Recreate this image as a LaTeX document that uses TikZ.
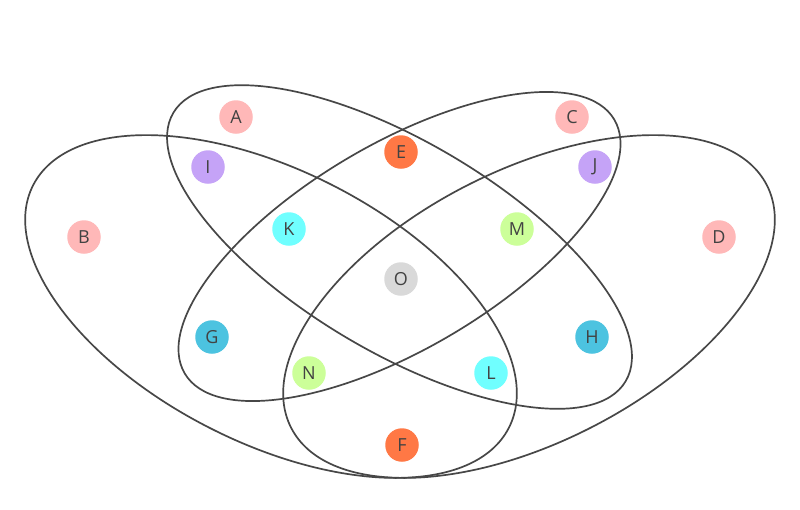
\documentclass[tikz,border=0pt]{standalone}
\usepackage{fontspec}
\setmainfont{Open Sans}
\definecolor{linec}{HTML}{474747}
\definecolor{txtc}{HTML}{424242}
\definecolor{pinkc}{HTML}{FFB8B8}
\definecolor{purplec}{HTML}{C5A3F7}
\definecolor{orangec}{HTML}{FF7845}
\definecolor{aquac}{HTML}{70FFFF}
\definecolor{bluec}{HTML}{4CC3E0}
\definecolor{greenc}{HTML}{CCFF99}
\definecolor{grayc}{HTML}{D9D9D9}
\tikzset{
  vline/.style={draw=linec, line width=1.7pt},
  dot/.style={circle, minimum size=33.5pt, inner sep=0pt, text=txtc, font=\fontsize{18}{18}\selectfont},
}
\begin{document}
\begin{tikzpicture}[x=1pt,y=1pt]
\useasboundingbox[fill=white] (0,0) rectangle (800,-509);
% ellipses
\draw[vline, rotate around={-30.7:(399.5,-247)}] (399.5,-247) ellipse [x radius=263pt, y radius=105pt];
\draw[vline, rotate around={30.6:(399.5,-246.5)}] (399.5,-246.5) ellipse [x radius=249.5pt, y radius=102.3pt];
\draw[vline, rotate around={-27:(271,-306.5)}] (271,-306.5) ellipse [x radius=267pt, y radius=136pt];
\draw[vline, rotate around={27:(529,-306.5)}] (529,-306.5) ellipse [x radius=267pt, y radius=136pt];
% labels
\node[dot, fill=pinkc] (A) at (236,-117) {A};
\node[dot, fill=pinkc] (B) at (84,-237) {B};
\node[dot, fill=pinkc] (C) at (572,-117) {C};
\node[dot, fill=pinkc] (D) at (719,-237) {D};
\node[dot, fill=orangec] (E) at (401,-152) {E};
\node[dot, fill=orangec] (F) at (402,-445) {F};
\node[dot, fill=bluec] (G) at (212,-337) {G};
\node[dot, fill=bluec] (H) at (592,-337) {H};
\node[dot, fill=purplec] (I) at (208,-167) {I};
\node[dot, fill=purplec] (J) at (595,-167) {J};
\node[dot, fill=aquac] (K) at (289,-229) {K};
\node[dot, fill=aquac] (L) at (491,-373) {L};
\node[dot, fill=greenc] (M) at (517,-229) {M};
\node[dot, fill=greenc] (N) at (309,-373) {N};
\node[dot, fill=grayc] (O) at (401,-279) {O};
\end{tikzpicture}
\end{document}
